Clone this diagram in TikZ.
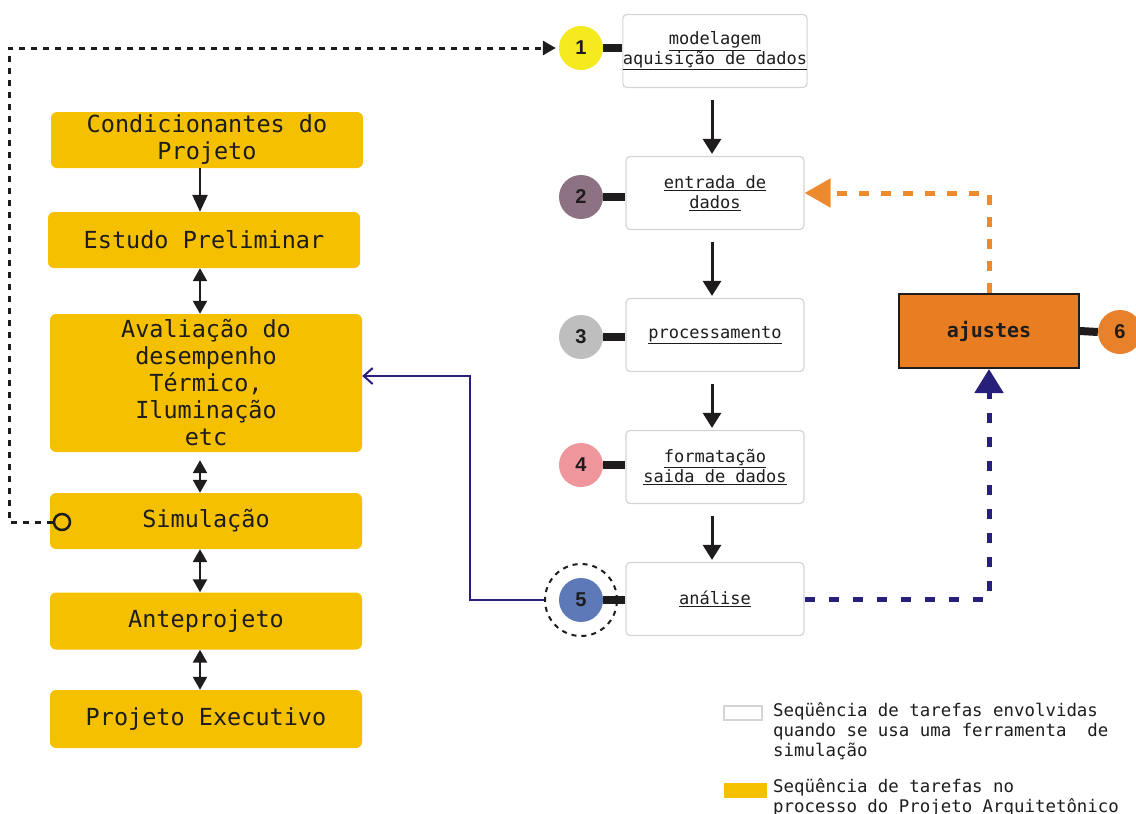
\documentclass[tikz,border=0pt]{standalone}
\usepackage{fontspec}
\setmonofont{DejaVu Sans Mono}
\newfontfamily\numfont{Liberation Sans}
\usetikzlibrary{arrows.meta,calc}

\definecolor{boxyellow}{RGB}{245,192,0}
\definecolor{boxorange}{RGB}{232,125,34}
\definecolor{dashorange}{RGB}{238,138,46}
\definecolor{navyline}{RGB}{38,32,122}
\definecolor{edgegray}{RGB}{212,212,212}
\definecolor{inkc}{RGB}{30,28,28}
\definecolor{numyellow}{RGB}{245,234,30}
\definecolor{numplum}{RGB}{140,114,131}
\definecolor{numgray}{RGB}{190,190,190}
\definecolor{numpink}{RGB}{238,150,155}
\definecolor{numblue}{RGB}{94,121,184}
\definecolor{numorange}{RGB}{232,130,42}

\begin{document}
\begin{tikzpicture}[x=1pt,y=-1pt,
  phase/.style={fill=boxyellow, rounded corners=6pt, minimum width=312pt,
    align=center, inner sep=0pt, text=inkc,
    font=\fontsize{23.5}{27}\selectfont\ttfamily},
  task/.style={draw=edgegray, line width=1.2pt, fill=white, rounded corners=4pt,
    minimum width=178pt, minimum height=73pt, align=center, inner sep=0pt,
    text=inkc, font=\fontsize{17}{20}\selectfont\ttfamily},
  num/.style={circle, minimum size=44pt, inner sep=0pt, text=inkc,
    font=\fontsize{20}{20}\selectfont\numfont\bfseries},
  bar/.style={line width=8pt, draw=inkc},
  flow/.style={draw=inkc, line width=3pt, -{Triangle[length=15pt,width=18pt]},
    shorten <=12pt, shorten >=2pt},
  step1/.style={draw=inkc, line width=2.5pt, -{Triangle[length=17pt,width=15pt]}},
  step2/.style={draw=inkc, line width=2.5pt,
    {Triangle[length=13pt,width=14pt]}-{Triangle[length=13pt,width=14pt]}},
  legtext/.style={anchor=north west, align=left, inner sep=0pt, text=inkc,
    font=\fontsize{17.4}{20}\selectfont\ttfamily}
]
\useasboundingbox (0,0) rectangle (1136,814);

% ---- architectural design process (left column) ----
\node[phase, minimum height=56pt] (cond)  at (207,140) {Condicionantes do\\Projeto};
\node[phase, minimum height=56pt] (estudo) at (204,240) {Estudo Preliminar};
\node[phase, minimum height=138pt] (aval) at (206,383)
  {Avaliação do\\desempenho\\Térmico,\\Iluminação\\etc};
\node[phase, minimum height=56pt] (simul) at (206,521) {Simulação};
\node[phase, minimum height=57pt] (ante) at (206,621) {Anteprojeto};
\node[phase, minimum height=58pt] (exec) at (206,719) {Projeto Executivo};

\coordinate (lx) at (200,0);
\draw[step1] (cond.south -| lx) -- (estudo.north -| lx);
\draw[step2] (estudo.south -| lx) -- (aval.north -| lx);
\draw[step2] ([yshift=-8pt]aval.south -| lx) -- (simul.north -| lx);
\draw[step2] (simul.south -| lx) -- (ante.north -| lx);
\draw[step2] (ante.south -| lx) -- (exec.north -| lx);

% ---- simulation tool tasks (centre column) ----
\node[task] (t1) at (715,51)  {\underline{modelagem}\\\underline{aquisição de dados}};
\node[task] (t2) at (715,193) {\underline{entrada de}\\\underline{dados}};
\node[task] (t3) at (715,335) {\underline{processamento}};
\node[task] (t4) at (715,467) {\underline{formatação}\\\underline{saida de dados}};
\node[task] (t5) at (715,599) {\underline{análise}};

\coordinate (cx) at (712,0);
\draw[flow] (t1.south -| cx) -- (t2.north -| cx);
\draw[flow] (t2.south -| cx) -- (t3.north -| cx);
\draw[flow] (t3.south -| cx) -- (t4.north -| cx);
\draw[flow] (t4.south -| cx) -- (t5.north -| cx);

% numbered markers
\node[num, fill=numyellow] (n1) at (581,48)  {1};
\node[num, fill=numplum]   (n2) at (581,197) {2};
\node[num, fill=numgray]   (n3) at (581,337) {3};
\node[num, fill=numpink]   (n4) at (581,465) {4};
\node[num, fill=numblue]   (n5) at (581,600) {5};
\node[circle, draw=inkc, line width=2pt, dash pattern=on 5pt off 5pt,
      minimum size=72pt, inner sep=0pt] (ring) at (n5) {};

\draw[bar] (n1.east) -- (n1.east -| t1.west);
\draw[bar] (n2.east) -- (n2.east -| t2.west);
\draw[bar] (n3.east) -- (n3.east -| t3.west);
\draw[bar] (n4.east) -- (n4.east -| t4.west);
\draw[bar] (n5.east) -- (n5.east -| t5.west);

% ---- adjustments ----
\node[draw=inkc, line width=2pt, fill=boxorange, minimum width=180pt,
      minimum height=74pt, inner sep=0pt, text=inkc,
      font=\fontsize{20}{20}\selectfont\ttfamily\bfseries] (aj) at (989,331) {ajustes};
\node[num, fill=numorange] (n6) at (1120,332) {6};
\draw[bar] (aj.east) -- (n6.west);

\draw[dashorange, line width=5pt, dash pattern=on 10pt off 12pt,
      -{Triangle[length=26pt,width=28pt]}] (aj.north) |- (t2.east);
\draw[navyline, line width=5pt, dash pattern=on 10pt off 14pt,
      -{Triangle[length=24pt,width=28pt]}] (t5.east) -| (aj.south);

% analysis feeds back to performance evaluation
\coordinate (bx) at (470,376);
\draw[navyline, line width=2pt, -{Straight Barb[length=9pt,width=16pt]}]
  (ring.west) -| (bx) -- (bx -| aval.east);

% simulation launches the tool
\node[circle, draw=inkc, line width=2.5pt, minimum size=16pt, inner sep=0pt] (hook) at (62,522) {};
\coordinate (dx) at (9,48);
\draw[inkc, line width=3pt, dash pattern=on 6pt off 6pt,
      -{Triangle[length=13pt,width=14pt]}, shorten >=3pt]
  (hook.west) -| (dx) -- (n1.west);

% ---- legend ----
\node[draw=edgegray, line width=1.2pt, fill=white, minimum width=38pt,
      minimum height=14pt, inner sep=0pt] (lgw) at (743,713) {};
\node[legtext] (lgwt) at (773,702)
  {Seqüência de tarefas envolvidas\\quando se usa uma ferramenta~~de\\simulação};
\node[fill=boxyellow, minimum width=43pt, minimum height=15pt, inner sep=0pt] (lgy) at (745,790) {};
\node[legtext] (lgyt) at (773,778)
  {Seqüência de tarefas no\\processo do Projeto Arquitetônico};
\end{tikzpicture}
\end{document}
